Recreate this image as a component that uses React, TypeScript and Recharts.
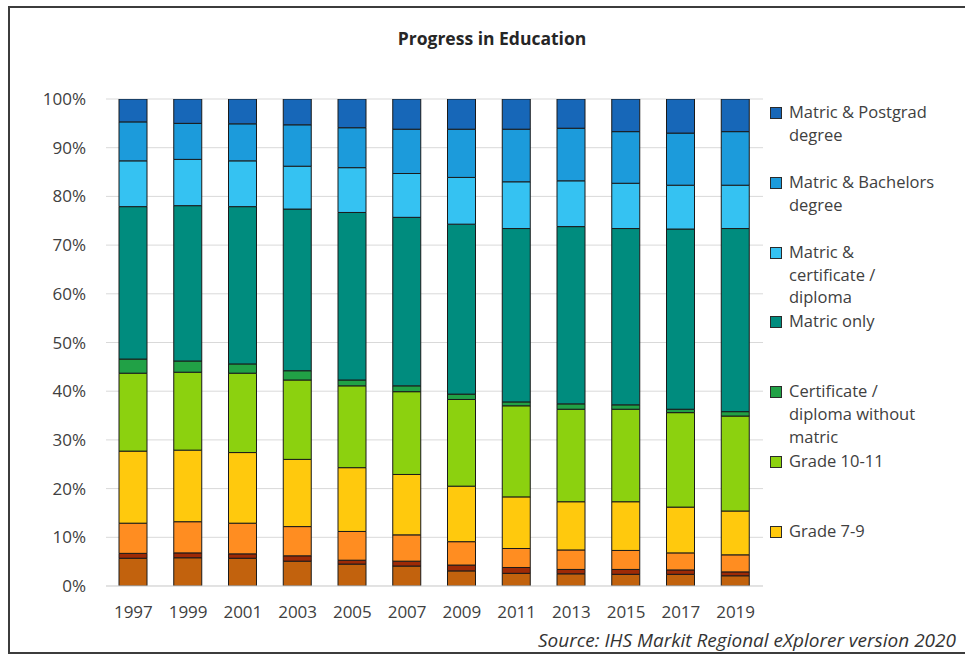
import React from 'react';
import { BarChart, Bar, XAxis, YAxis, CartesianGrid } from 'recharts';

const years = ['1997', '1999', '2001', '2003', '2005', '2007', '2009', '2011', '2013', '2015', '2017', '2019'];

const noSchooling = [5.7, 5.8, 5.7, 5.1, 4.5, 4.1, 3.1, 2.6, 2.5, 2.4, 2.4, 2.1];
const grade02 = [1.0, 1.0, 0.9, 1.1, 0.8, 1.0, 1.2, 1.2, 0.9, 1.0, 0.9, 0.8];
const grade36 = [6.2, 6.4, 6.3, 6.0, 5.9, 5.4, 4.8, 3.9, 4.0, 3.9, 3.5, 3.5];
const grade79 = [14.8, 14.7, 14.5, 13.8, 13.1, 12.4, 11.4, 10.6, 9.9, 10.0, 9.4, 9.0];
const grade1011 = [16.0, 16.0, 16.3, 16.3, 16.8, 17.0, 17.8, 18.7, 19.0, 19.0, 19.4, 19.5];
const certNoMatric = [2.9, 2.3, 1.9, 1.9, 1.2, 1.2, 1.1, 0.8, 1.1, 0.9, 0.7, 0.9];
const matricOnly = [31.3, 31.9, 32.3, 33.2, 34.4, 34.6, 34.9, 35.6, 36.4, 36.2, 37.0, 37.6];
const matricCert = [9.4, 9.5, 9.4, 8.8, 9.2, 9.0, 9.6, 9.6, 9.4, 9.3, 9.0, 8.9];
const matricBachelors = [8.0, 7.4, 7.6, 8.5, 8.2, 9.1, 9.9, 10.8, 10.8, 10.6, 10.7, 11.0];
const matricPostgrad = [4.7, 5.0, 5.1, 5.3, 5.9, 6.2, 6.2, 6.2, 6.0, 6.7, 7.0, 6.7];

const yTicks = [0, 10, 20, 30, 40, 50, 60, 70, 80, 90, 100];

const series = [
  { key: 's0', name: 'No schooling', color: '#C2620D', values: noSchooling, lines: ['No schooling'] },
  { key: 's1', name: 'Grade 0-2', color: '#9E2A06', values: grade02, lines: ['Grade 0-2'] },
  { key: 's2', name: 'Grade 3-6', color: '#FF8D21', values: grade36, lines: ['Grade 3-6'] },
  { key: 's3', name: 'Grade 7-9', color: '#FFC90D', values: grade79, lines: ['Grade 7-9'] },
  { key: 's4', name: 'Grade 10-11', color: '#8CD10F', values: grade1011, lines: ['Grade 10-11'] },
  { key: 's5', name: 'Certificate / diploma without matric', color: '#21A146', values: certNoMatric, lines: ['Certificate /', 'diploma without', 'matric'] },
  { key: 's6', name: 'Matric only', color: '#008C7E', values: matricOnly, lines: ['Matric only'] },
  { key: 's7', name: 'Matric & certificate / diploma', color: '#35C2F2', values: matricCert, lines: ['Matric &', 'certificate /', 'diploma'] },
  { key: 's8', name: 'Matric & Bachelors degree', color: '#1C9BDB', values: matricBachelors, lines: ['Matric & Bachelors', 'degree'] },
  { key: 's9', name: 'Matric & Postgrad degree', color: '#1767B8', values: matricPostgrad, lines: ['Matric & Postgrad', 'degree'] },
];

const data = years.map((y, i) => {
  const row: Record<string, any> = { year: y };
  series.forEach((s) => {
    row[s.key] = s.values[i];
  });
  return row;
});

const FONT = '"Open Sans", "Noto Sans", sans-serif';
const FRAME = '#3c3c3c';

const legendShown = series.slice(3).reverse();

function ChartLegend() {
  return (
    <div style={{ position: 'absolute', left: 770, top: 100, width: 195, height: 460, fontFamily: FONT }}>
      {legendShown.map((s, i) => {
        const top = i * 69.8;
        return (
          <div key={s.key} style={{ position: 'absolute', left: 0, top: top }}>
            <div
              style={{
                position: 'absolute',
                left: 0,
                top: 7,
                width: 10,
                height: 10,
                background: s.color,
                border: '1px solid #2a2a2a',
              }}
            />
            <div style={{ position: 'absolute', left: 19, top: 0, whiteSpace: 'nowrap' }}>
              {s.lines.map((ln, j) => (
                <div
                  key={j}
                  style={{
                    height: j === 0 ? 24 : 22.5,
                    lineHeight: j === 0 ? '24px' : '22.5px',
                    fontSize: 16.5,
                    color: '#404040',
                  }}
                >
                  {ln}
                </div>
              ))}
            </div>
          </div>
        );
      })}
    </div>
  );
}

export default function App() {
  return (
    <div style={{ position: 'relative', width: 965, height: 657, overflow: 'hidden', background: '#fff' }}>
      <style>{'html,body{margin:0;padding:0;}'}</style>
      <div
        style={{
          position: 'absolute',
          left: 392,
          top: 26,
          width: 200,
          textAlign: 'center',
          fontFamily: FONT,
          fontWeight: 700,
          fontSize: 17.5,
          color: '#262626',
          whiteSpace: 'nowrap',
          lineHeight: '24px',
        }}
      >
        Progress in Education
      </div>
      <div style={{ position: 'absolute', left: 0, top: 0 }}>
        <BarChart
          width={965}
          height={657}
          data={data}
          margin={{ top: 99, right: 202, bottom: 41, left: 0 }}
          barSize={28}
        >
          <CartesianGrid vertical={false} stroke="#d9d9d9" strokeWidth={1} />
          <XAxis
            dataKey="year"
            height={30}
            axisLine={{ stroke: '#d9d9d9' }}
            tickLine={false}
            tickMargin={14}
            tick={{ fill: '#404040', fontSize: 17, fontFamily: FONT }}
            interval={0}
          />
          <YAxis
            type="number"
            domain={[0, 100]}
            ticks={yTicks}
            width={106}
            axisLine={false}
            tickLine={false}
            tickMargin={14}
            allowDataOverflow
            tickFormatter={(v: number) => `${v}%`}
            tick={{ fill: '#404040', fontSize: 17, fontFamily: FONT }}
          />
          {series.map((s) => (
            <Bar
              key={s.key}
              dataKey={s.key}
              name={s.name}
              stackId="a"
              fill={s.color}
              stroke="#1a1a1a"
              strokeWidth={1}
              isAnimationActive={false}
            />
          ))}
        </BarChart>
      </div>
      <ChartLegend />
      <div
        style={{
          position: 'absolute',
          right: 9,
          top: 629,
          fontFamily: FONT,
          fontStyle: 'italic',
          fontSize: 19,
          color: '#333',
          whiteSpace: 'nowrap',
          lineHeight: '23px',
        }}
      >
        Source: IHS Markit Regional eXplorer version 2020
      </div>
      <div style={{ position: 'absolute', left: 8, top: 6, width: 957, height: 2, background: FRAME }} />
      <div style={{ position: 'absolute', left: 8, top: 6, width: 2, height: 648, background: FRAME }} />
      <div style={{ position: 'absolute', left: 8, top: 652, width: 957, height: 2, background: FRAME }} />
    </div>
  );
}
